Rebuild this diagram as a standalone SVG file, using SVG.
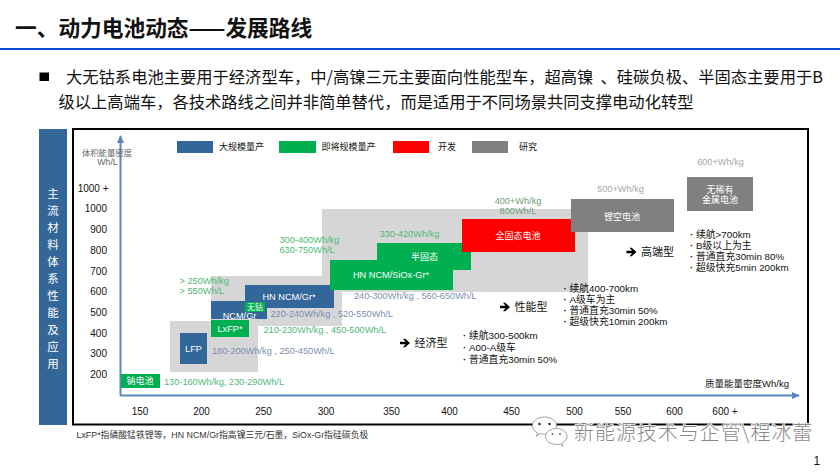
<svg xmlns="http://www.w3.org/2000/svg" width="840" height="472" viewBox="0 0 840 472">
<defs>
<marker id="ah" markerUnits="userSpaceOnUse" markerWidth="8" markerHeight="8" refX="7" refY="4" orient="auto"><path d="M0,0.500L8,4L0,7.500Z" fill="#5b87bd"/></marker>
<path id="fat" d="M0,-1.300H5.500L3,-4.300H5.200L10,0L5.200,4.300H3L5.500,1.300H0Z" fill="#000"/>
</defs>
<style>
text{font-family:"Liberation Sans","Noto Sans CJK SC",sans-serif}
.cn{font-family:"Noto Sans CJK SC",sans-serif}
.tk{font-size:10px;fill:#111;text-anchor:middle}
.g{font-size:9.200px;fill:#4fb878}
.b{font-size:9.200px;fill:#7c8db0}
.gr{font-size:9.200px;fill:#a6a6a6;text-anchor:middle}
.o{font-size:9.200px;fill:#6f9e78;text-anchor:middle}
.w{font-size:9.200px;fill:#fff;text-anchor:middle}
.wc{font-size:9px;fill:#fff;text-anchor:middle}
.lg{font-size:9px;fill:#111}
.bl{font-size:16.300px;fill:#111}
.ty{font-size:11px;fill:#111}
.d{font-weight:700}
</style>
<g id="header">
<text x="15" y="36" font-size="21.700" font-weight="700" fill="#111" class="cn">一、动力电池动态——发展路线</text>
<rect x="0" y="48" width="840" height="2" fill="#0a46d0"/>
</g>
<g id="bullet">
<rect x="39.500" y="72.500" width="9.500" height="8.500" fill="#000"/>
<text x="66" y="83" class="bl cn" word-spacing="3.500">大无钴系电池主要用于经济型车，中/高镍三元主要面向性能型车，超高镍 、硅碳负极、半固态主要用于B</text>
<text x="58.500" y="108" class="bl cn">级以上高端车，各技术路线之间并非简单替代，而是适用于不同场景共同支撑电动化转型</text>
</g>
<g id="side-bar">
<rect x="39" y="129" width="28" height="296" fill="#336699"/>
<text class="cn" font-size="11.500" fill="#fff" text-anchor="middle"><tspan x="53" y="198">主</tspan><tspan x="53" y="215">流</tspan><tspan x="53" y="232">材</tspan><tspan x="53" y="249">料</tspan><tspan x="53" y="266">体</tspan><tspan x="53" y="283">系</tspan><tspan x="53" y="300">性</tspan><tspan x="53" y="317">能</tspan><tspan x="53" y="334">及</tspan><tspan x="53" y="351">应</tspan><tspan x="53" y="368">用</tspan></text>
</g>
<rect id="frame" x="73" y="129" width="735" height="295.500" fill="none" stroke="#000" stroke-width="2"/>
<g id="bands" fill="#d6d6d6">
<rect x="170" y="321" width="88" height="51"/>
<path d="M211 276H322V209H588V292H342V326H258V321H211Z"/>
</g>
<g id="connectors" fill="none" stroke="#5b87bd" stroke-width="2">
<path d="M120.500 395.500V136" marker-end="url(#ah)"/>
<path d="M120 395.500H799" marker-end="url(#ah)"/>
</g>
<g id="legend">
<rect x="177" y="141" width="36" height="12" fill="#336699"/><text x="219" y="150" class="lg cn">大规模量产</text>
<rect x="279" y="141" width="37" height="12" fill="#00b050"/><text x="321.500" y="150" class="lg cn">即将规模量产</text>
<rect x="393" y="141" width="36" height="12" fill="#ff0000"/><text x="438" y="150" class="lg cn">开发</text>
<rect x="472" y="141" width="36" height="12" fill="#808080"/><text x="519" y="150" class="lg cn">研究</text>
</g>
<g id="axis-labels">
<text x="107" y="155.500" text-anchor="middle" font-size="8.400" fill="#666" class="cn">体积能量密度</text>
<text x="107.500" y="165" text-anchor="middle" font-size="8.800" fill="#666">Wh/L</text>
<text x="705" y="387" font-size="9.500" fill="#111">质量能量密度Wh/kg</text>
</g>
<g id="y-ticks" font-size="10" fill="#111" text-anchor="end">
<text x="108.500" y="192">1000 +</text><text x="107" y="212">1000</text><text x="107" y="233">900</text><text x="107" y="254">800</text><text x="107" y="275">700</text><text x="107" y="295">600</text><text x="107" y="316">500</text><text x="107" y="337">400</text><text x="107" y="357">300</text><text x="107" y="378">200</text>
</g>
<g id="x-ticks">
<text class="tk" x="140" y="415">150</text><text class="tk" x="201.500" y="415">200</text><text class="tk" x="263.500" y="415">250</text><text class="tk" x="326" y="415">300</text><text class="tk" x="391.500" y="415">350</text><text class="tk" x="449.500" y="415">400</text><text class="tk" x="511.500" y="415">450</text><text class="tk" x="574.500" y="415">500</text><text class="tk" x="623" y="415">550</text><text class="tk" x="674.500" y="415">600</text><text class="tk" x="725" y="415">600 +</text>
</g>
<g id="node-na"><rect x="121" y="374" width="39" height="14" fill="#00b050"/><text x="140" y="384" class="wc">钠电池</text></g>
<text x="164" y="384.500" class="g">130-160Wh/kg, 230-290Wh/L</text>
<g id="node-lfp"><rect x="180" y="333" width="27" height="31" fill="#336699"/><text x="193.500" y="352" class="w">LFP</text></g>
<text x="212" y="354" class="b">180-200Wh/kg , 250-450Wh/L</text>
<g id="node-lxfp"><rect x="211" y="320" width="38" height="17" fill="#00b050"/><text x="230" y="332" class="w">LxFP*</text></g>
<text x="263.500" y="333" class="g">210-230Wh/kg , 450-500Wh/L</text>
<g id="node-ncm"><rect x="211" y="301" width="56" height="18" fill="#336699"/><text x="239.500" y="318.500" class="w">NCM/Gr</text></g>
<text x="270.500" y="317" class="b">220-240Wh/kg , 520-550Wh/L</text>
<g id="node-hn"><rect x="245" y="285" width="89" height="23" fill="#336699"/><text x="289" y="300" class="w">HN NCM/Gr*</text></g>
<g id="node-cofree"><rect x="245" y="302" width="20" height="10" fill="#00b050"/><text x="255" y="309.800" fill="#fff" text-anchor="middle" font-size="8">无钴</text></g>
<text x="179.500" y="284" class="g">&gt; 250Wh/kg</text>
<text x="179.500" y="294" class="g">&gt; 550Wh/L</text>
<text x="279.500" y="243" class="g">300-400Wh/kg</text>
<text x="279.500" y="253" class="g">630-750Wh/L</text>
<g id="node-hnsi"><rect x="330" y="260" width="123" height="30" fill="#00b050"/><text x="391" y="278" class="w">HN NCM/SiOx-Gr*</text></g>
<g id="node-semi"><rect x="377" y="243" width="94" height="27" fill="#00b050"/><text x="424.500" y="259.500" class="wc">半固态</text></g>
<text x="379.500" y="236.500" class="g">330-420Wh/kg</text>
<text x="354" y="299" class="b">240-300Wh/kg , 560-650Wh/L</text>
<g id="node-ss"><rect x="462" y="219" width="113" height="33" fill="#ff0000"/><text x="518" y="238.500" class="wc">全固态电池</text></g>
<text x="518" y="204" class="o">400+Wh/kg</text>
<text x="518" y="213.800" class="o">800Wh/L</text>
<g id="node-liair"><rect x="571" y="199" width="103" height="33" fill="#808080"/><text x="622" y="219.500" class="wc">锂空电池</text></g>
<text x="620.500" y="191.500" class="gr">500+Wh/kg</text>
<g id="node-free"><rect x="687" y="177" width="66" height="34" fill="#808080"/><text x="720" y="192.500" class="wc">无稀有</text><text x="720" y="203" class="wc">金属电池</text></g>
<text x="720.500" y="165" class="gr">600+Wh/kg</text>
<g id="type-labels">
<use href="#fat" x="400" y="343"/><text x="414.500" y="347" class="ty cn">经济型</text>
<use href="#fat" x="500" y="307"/><text x="514.500" y="311" class="ty cn">性能型</text>
<use href="#fat" x="626.500" y="252"/><text x="641" y="256" class="ty cn">高端型</text>
</g>
<g id="notes" font-size="9.800" fill="#111">
<text y="339"><tspan x="463" class="d">·</tspan><tspan x="469">续航300-500km</tspan></text>
<text y="350.500"><tspan x="463" class="d">·</tspan><tspan x="469">A00-A级车</tspan></text>
<text y="362.500"><tspan x="463" class="d">·</tspan><tspan x="469">普通直充30min 50%</tspan></text>
<text y="292"><tspan x="563.500" class="d">·</tspan><tspan x="569.500">续航400-700km</tspan></text>
<text y="303"><tspan x="563.500" class="d">·</tspan><tspan x="569.500">A级车为主</tspan></text>
<text y="314"><tspan x="563.500" class="d">·</tspan><tspan x="569.500">普通直充30min 50%</tspan></text>
<text y="325"><tspan x="563.500" class="d">·</tspan><tspan x="569.500">超级快充10min 200km</tspan></text>
<text y="237.500"><tspan x="690" class="d">·</tspan><tspan x="696">续航&gt;700km</tspan></text>
<text y="248.500"><tspan x="690" class="d">·</tspan><tspan x="696">B级以上为主</tspan></text>
<text y="259.500"><tspan x="690" class="d">·</tspan><tspan x="696">普通直充30min 80%</tspan></text>
<text y="270.500"><tspan x="690" class="d">·</tspan><tspan x="696">超级快充5min 200km</tspan></text>
</g>
<text id="footnote" x="76.500" y="438" font-size="8.850" fill="#333">LxFP*指磷酸锰铁锂等，HN NCM/Gr指高镍三元/石墨，SiOx-Gr指硅碳负极</text>
<g id="watermark">
<g fill="#fff" stroke="#8a8a8a" stroke-width="0.800">
<path d="M536 436.500L538 433.500C534.500 431.500 532.500 428.500 532.500 425.500C532.500 420.500 538 417 544.500 417C551 417 556.500 420.500 556.500 425.500C556.500 430.500 551 434 544.500 434C543 434 541.500 434 540 433.500Z"/>
<path d="M563 446.500L561.500 443.500C564.500 442 567 439.500 567 436.500C567 432 562.500 428.500 556.500 428.500C550.500 428.500 545.500 432 545.500 436.500C545.500 441 550.500 444.500 556.500 444.500C558 444.500 559.500 444.500 560.500 444Z"/>
</g>
<circle cx="539.500" cy="424" r="1.200" fill="#222"/><circle cx="549.500" cy="424" r="1.200" fill="#222"/>
<circle cx="552.500" cy="434" r="1" fill="#666"/><circle cx="560" cy="434" r="1" fill="#666"/>
<text x="574" y="440" font-size="20" letter-spacing="0.950" fill="#8a8a8a" stroke="#fff" stroke-width="1.500" paint-order="stroke" class="cn" font-weight="300">新能源技术与企管\程冰蕾</text>
</g>
<text id="page" x="813.500" y="464.500" font-size="12" fill="#111">1</text>
</svg>
